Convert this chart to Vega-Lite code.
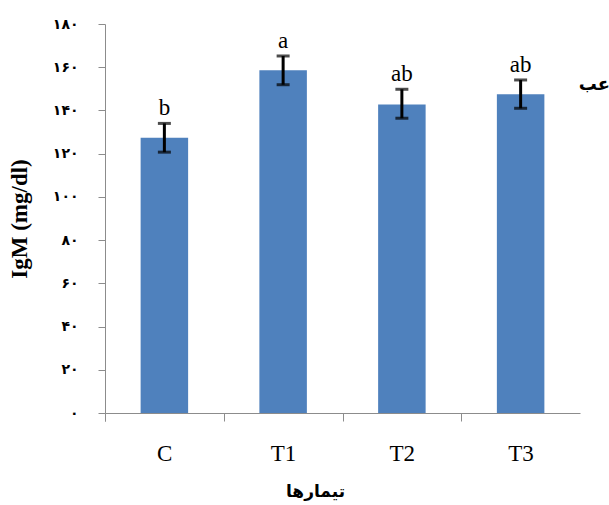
{
  "$schema": "https://vega.github.io/schema/vega-lite/v6.json",
  "autosize": "none",
  "width": 475,
  "height": 389,
  "padding": {"left": 105, "top": 24, "right": 29, "bottom": 92},
  "background": "white",
  "title": {
    "text": "عب",
    "anchor": "end",
    "orient": "top",
    "font": "DejaVu Sans",
    "fontSize": 18,
    "fontWeight": "bold",
    "color": "black",
    "dx": 30,
    "dy": 81
  },
  "config": {"view": {"stroke": null}},
  "data": {
    "values": [
      {"t": "C", "v": 127.4, "lo": 120.7, "hi": 134.0, "g": "b"},
      {"t": "T1", "v": 158.6, "lo": 151.9, "hi": 165.2, "g": "a"},
      {"t": "T2", "v": 142.8, "lo": 136.4, "hi": 149.8, "g": "ab"},
      {"t": "T3", "v": 147.5, "lo": 141.0, "hi": 154.1, "g": "ab"}
    ]
  },
  "encoding": {
    "x": {
      "field": "t",
      "type": "nominal",
      "sort": null,
      "scale": {"paddingInner": 0.6, "paddingOuter": 0.3},
      "axis": {
        "title": "تیمارها",
        "titleFont": "DejaVu Sans",
        "titleFontSize": 17,
        "titleFontWeight": "bold",
        "titleColor": "black",
        "titlePadding": 18,
        "titleX": 210,
        "labelAngle": 0,
        "labelFont": "Liberation Serif",
        "labelFontSize": 23,
        "labelColor": "black",
        "labelPadding": 21,
        "labelOffset": 35.5,
        "ticks": true,
        "bandPosition": 0,
        "tickExtra": true,
        "tickOffset": -35.6,
        "tickSize": 8,
        "tickWidth": 1,
        "tickColor": "#8c8c8c",
        "domainColor": "#8c8c8c",
        "grid": false
      }
    }
  },
  "layer": [
    {
      "mark": {"type": "bar", "color": "#4f81bd"},
      "encoding": {
        "y": {
          "field": "v",
          "type": "quantitative",
          "scale": {"domain": [0, 180], "nice": false},
          "axis": {
            "title": "IgM (mg/dl)",
            "titleFont": "Liberation Serif",
            "titleFontSize": 23,
            "titleFontWeight": "bold",
            "titleColor": "black",
            "titlePadding": 21,
            "values": [0, 20, 40, 60, 80, 100, 120, 140, 160, 180],
            "labelExpr": "replace(replace(replace(replace(replace(replace(datum.label, regexp('0','g'), '۰'), regexp('1','g'), '۱'), regexp('2','g'), '۲'), regexp('4','g'), '۴'), regexp('6','g'), '۶'), regexp('8','g'), '۸')",
            "labelFont": "DejaVu Sans",
            "labelFontSize": 14,
            "labelFontWeight": "bold",
            "labelColor": "black",
            "labelPadding": 20,
            "tickSize": 7,
            "tickColor": "#8c8c8c",
            "domainColor": "#8c8c8c",
            "grid": false
          }
        }
      }
    },
    {
      "mark": {"type": "errorbar", "ticks": {"size": 13, "thickness": 3, "color": "black"}, "thickness": 3, "color": "black"},
      "encoding": {
        "y": {"field": "lo", "type": "quantitative", "title": "IgM (mg/dl)"},
        "y2": {"field": "hi"}
      }
    },
    {
      "mark": {"type": "text", "baseline": "bottom", "dy": -3, "font": "Liberation Serif", "fontSize": 23, "color": "black"},
      "encoding": {
        "y": {"field": "hi", "type": "quantitative", "title": "IgM (mg/dl)"},
        "text": {"field": "g"}
      }
    }
  ]
}
